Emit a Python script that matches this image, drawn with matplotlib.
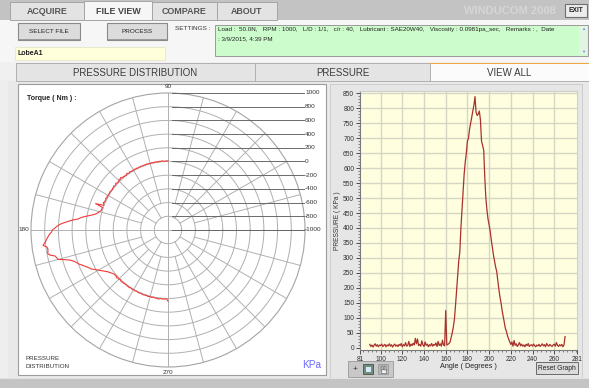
import numpy as np
import matplotlib
matplotlib.use("Agg")
import matplotlib.pyplot as plt
from matplotlib.patches import Rectangle
from matplotlib.ticker import FixedLocator

W, H = 589, 388

# ---- data -------------------------------------------------------------
angles = list(range(90, 271))
pressure = [
    # 90-99
    12, 5, 10, 3, 9, 14, 6, 11, 4, 10,
    # 100-109
    8, 13, 5, 9, 12, 4, 10, 7, 14, 6,
    # 110-119
    11, 3, 9, 13, 6, 10, 5, 12, 8, 15,
    # 120-129
    4, 11, 7, 18, 6, 9, 22, 5, 13, 8,
    # 130-139
    16, 10, 32, 14, 30, 8, 12, 6, 24, 10,
    # 140-149
    5, 20, 9, 13, 4, 11, 7, 15, 6, 12,
    # 150-159
    9, 17, 5, 22, 8, 14, 6, 26, 10, 7,
    # 160-169
    125, 10, 12, 15, 20, 35, 50, 70, 95, 140,
    # 170-179
    190, 240, 290, 320, 400, 460, 520, 580, 620, 650,
    # 180-189
    690, 700, 730, 750, 770, 790, 810, 838, 785, 775,
    # 190-199
    780, 790, 760, 690, 675, 660, 570, 500, 460, 430,
    # 200-209
    410, 390, 360, 335, 310, 290, 270, 255, 225, 195,
    # 210-219
    170, 150, 125, 105, 85, 65, 55, 40, 30, 20,
    # 220-229
    12, 20, 6, 25, 9, 14, 5, 11, 18, 7,
    # 230-239
    13, 6, 10, 4, 12, 8, 15, 5, 9, 11,
    # 240-249
    6, 13, 8, 4, 10, 7, 12, 5, 9, 14,
    # 250-259
    7, 11, 4, 15, 9, 6, 12, 8, 5, 10,
    # 260-269
    13, 6, 18, 9, 5, 11, 7, 12, 4, 10,
    # 270
    38,
]

radial_ticks = [1000, 800, 600, 400, 200, 0, -200, -400, -600, -800, -1000]
angle_ticks = [81, 100, 120, 140, 160, 180, 200, 220, 240, 260, 281]
pressure_ticks = list(range(0, 851, 50))

main_tabs = ["ACQUIRE", "FILE VIEW", "COMPARE", "ABOUT"]
view_tabs = ["PRESSURE DISTRIBUTION", "PRESSURE", "VIEW ALL"]
settings_line1 = ("Load :  50.0N,   RPM : 1000,   L/D : 1/1,   c/r : 40,   "
                  "Lubricant : SAE20W40,   Viscosity : 0.0981pa_sec,   Remarks : ,  Date")
settings_line2 = ": 3/9/2015, 4:39 PM"
file_name = "LobeA1"

FONT = "Liberation Sans"
plt.rcParams["font.family"] = [FONT, "DejaVu Sans"]

fig = plt.figure(figsize=(W / 100, H / 100), dpi=100)


def box(x0, y0, x1, y1):
    """pixel box (top-left origin) -> figure fraction rect"""
    return [x0 / W, 1 - y1 / H, (x1 - x0) / W, (y1 - y0) / H]


# ---- window chrome ----------------------------------------------------
bg = fig.add_axes([0, 0, 1, 1], zorder=0)
bg.set_xlim(0, W)
bg.set_ylim(H, 0)
bg.axis("off")


def rect(x0, y0, x1, y1, fc, ec="none", lw=0.8, z=1):
    bg.add_patch(Rectangle((x0, y0), x1 - x0, y1 - y0, facecolor=fc,
                           edgecolor=ec, linewidth=lw, zorder=z))


rect(0, 0, W, H, "#eeeeee", z=0)
# top tab bar
rect(0, 0, W, 20, "#c3c3c3")
tab_x = [(10, 84), (84, 152), (152, 217), (217, 277)]
for (x0, x1), name in zip(tab_x, main_tabs):
    active = name == "FILE VIEW"
    rect(x0, 1 if active else 2, x1, 20, "#f6f6f6" if active else "#e3e3e3",
         ec="#a5a5a5", lw=0.7, z=2)
    bg.text((x0 + x1) / 2, 11, name, ha="center", va="center", fontsize=6.4,
            fontweight="bold", color="#555555" if not active else "#444444", zorder=3)
bg.text(510, 11, "WINDUCOM 2008", ha="center", va="center", fontsize=8,
        fontweight="bold", color="#d6d6d6", zorder=3)
rect(565, 4, 587, 17, "#ececec", ec="#707070", lw=0.8, z=2)
bg.text(576, 10.8, "EXIT", ha="center", va="center", fontsize=4.8,
        fontweight="bold", color="#222222", zorder=3)

# file row
rect(0, 20, W, 62, "#f6f6f6")
for (x0, x1), name in zip([(18, 80), (107, 167)], ["SELECT FILE", "PROCESS"]):
    rect(x0, 23, x1, 40, "#dcdcdc", ec="#8a8a8a", lw=0.8, z=2)
    rect(x0 + 1, 38.5, x1, 40, "#9a9a9a", z=2)
    bg.text((x0 + x1) / 2, 31.5, name, ha="center", va="center", fontsize=4.6,
            color="#222222", zorder=3)
bg.text(175, 28, "SETTINGS :", ha="left", va="center", fontsize=4.6,
        color="#333333", zorder=3)
rect(215, 25, 588, 56, "#ccfccc", ec="#9a9a9a", lw=0.7, z=2)
bg.text(218, 30, settings_line1, ha="left", va="center", fontsize=4.5,
        color="#222222", zorder=3)
bg.text(218, 38.5, settings_line2, ha="left", va="center", fontsize=4.5,
        color="#222222", zorder=3)
rect(579, 26, 587, 55, "#e4f4e4", z=3)
bg.text(583, 29.5, "▲", ha="center", va="center", fontsize=3, color="#6a8ad0", zorder=4)
bg.text(583, 52, "▼", ha="center", va="center", fontsize=3, color="#6a8ad0", zorder=4)
rect(15, 47, 165, 60, "#ffffdc", ec="#e6e6c8", lw=0.6, z=2)
bg.text(17, 53.8, file_name, ha="left", va="center", fontsize=5,
        fontweight="bold", color="#222222", zorder=3)

# view tabs
rect(0, 62, W, 80, "#f0f0f0")
vtab_x = [(16, 255), (255, 430), (430, 589)]
for (x0, x1), name in zip(vtab_x, view_tabs):
    active = name == "VIEW ALL"
    rect(x0, 63, x1, 81, "#fbfbfb" if active else "#e4e4e4",
         ec="#b0b0b0", lw=0.7, z=2)
    if active:
        rect(x0, 62.5, x1, 64, "#f2a640", z=3)
    bg.text((x0 + x1) / 2, 72.5, name, ha="center", va="center", fontsize=7,
            color="#3c3c3c", zorder=3)

# panels
rect(8, 81, W, 378, "#e9e9e9")
rect(18, 84, 326, 375, "#ffffff", ec="#9c9c9c", lw=0.8, z=2)
rect(330, 84, 582, 378, "#e6e6e6", ec="#c8c8c8", lw=0.6, z=2)
rect(0, 378, W, H, "#c4c4c4", z=2)
rect(0, 378, W, 379.2, "#e2e2e2", z=3)

# polar panel captions
bg.text(27, 98, "Torque ( Nm ) :", ha="left", va="center", fontsize=5,
        fontweight="bold", color="#222222", zorder=3)
bg.text(26, 358, "PRESSURE", ha="left", va="center", fontsize=4.5,
        color="#333333", zorder=3)
bg.text(26, 367, "DISTRIBUTION", ha="left", va="center", fontsize=4.5,
        color="#333333", zorder=3)
bg.text(312, 365, "KPa", ha="center", va="center", fontsize=7.2,
        color="#6a6aff", zorder=3)

# graph footer: palette, axis title, reset button
rect(348, 361, 393, 377, "#c8c8c8", ec="#9a9a9a", lw=0.6, z=3)
bg.text(355, 369, "+", ha="center", va="center", fontsize=6, color="#333333", zorder=4)
rect(363, 364, 373, 374, "#6f8f7a", ec="#3c3c3c", lw=0.5, z=4)
rect(366, 366.5, 370.5, 371.5, "#d8e8ff", z=5)
rect(378, 364, 388, 374, "#b8b8b8", ec="#888888", lw=0.4, z=4)
# pan (hand) icon as tiny fingers over a palm
rect(380.5, 369, 386, 372.5, "#f2f2f2", ec="#555555", lw=0.4, z=5)
for fx_ in (380.8, 382.2, 383.6, 385.0):
    rect(fx_, 365.5, fx_ + 1.0, 369.5, "#f2f2f2", ec="#555555", lw=0.3, z=5)
bg.text(468, 367, "Angle ( Degrees )", ha="center", va="center", fontsize=5.2,
        color="#222222", zorder=4)
rect(536, 362, 578, 374, "#dcdcdc", ec="#6a6a6a", lw=0.7, z=3)
bg.text(557, 368.2, "Reset Graph", ha="center", va="center", fontsize=4.8,
        color="#222222", zorder=4)

# ---- polar pressure distribution ---------------------------------------
cx, cy, R = 168, 230, 137
pax = fig.add_axes(box(cx - R, cy - R, cx + R, cy + R), projection="polar", zorder=2)
pax.set_facecolor("white")
rmin, rmax = radial_ticks[-1], radial_ticks[0]
pax.set_ylim(rmin, rmax)
pax.set_xticks([])
pax.set_yticks([])
pax.grid(False)
pax.spines["polar"].set_color("#a4a4a4")
pax.spines["polar"].set_linewidth(0.8)

full = np.linspace(0, 2 * np.pi, 361)
grid_c = "#b0b0b0"
for v in radial_ticks[1:-1]:
    pax.plot(full, [v] * len(full), color=grid_c, lw=0.7, zorder=1)
for deg in range(0, 360, 15):
    if deg % 90 == 0:
        start = rmin
    elif deg % 30 == 0:
        start = radial_ticks[-2]
    else:
        start = radial_ticks[-3]
    t = np.deg2rad(deg)
    pax.plot([t, t], [start, rmax], color=grid_c, lw=0.7, zorder=1)

pax.plot(np.deg2rad(angles), pressure, color="#f03a3a", lw=0.8, zorder=3)

# radial scale drawn to the right of the dial
sax = fig.add_axes(box(cx - R, cy - R, cx + R, cy + R), zorder=3)
sax.set_xlim(-1, 1)
sax.set_ylim(-1, 1)
sax.axis("off")
for v in radial_ticks:
    y = (v - rmin) / (rmax - rmin)
    sax.plot([0.03, 0.995], [y, y], color="#606060", lw=0.65, clip_on=False)
    sax.text(1.0, y, str(v), ha="left", va="center", fontsize=4.6,
             color="#333333", clip_on=False)
sax.text(0, 1.03, "90", ha="center", va="bottom", fontsize=4.6, color="#333333")
sax.text(0, -1.025, "270", ha="center", va="top", fontsize=4.6, color="#333333")
sax.text(-1.01, 0, "180", ha="right", va="center", fontsize=4.6, color="#333333")

# ---- pressure vs angle graph -------------------------------------------
rax = fig.add_axes(box(360, 91, 577, 350), zorder=4)
rax.set_facecolor("#ffffe0")
rax.set_xlim(angle_ticks[0], angle_ticks[-1])
rax.set_ylim(-6.7, 856.7)
rax.xaxis.set_major_locator(FixedLocator(angle_ticks))
rax.yaxis.set_major_locator(FixedLocator(pressure_ticks))
rax.xaxis.set_minor_locator(FixedLocator([a for a in range(84, 281, 4)
                                          if a not in angle_ticks]))
rax.yaxis.set_minor_locator(FixedLocator([p for p in range(0, 851, 10)
                                          if p % 50]))
rax.set_xticklabels([str(a) for a in angle_ticks])
rax.set_yticklabels([str(p) for p in pressure_ticks])
for a in angle_ticks[1:-1]:
    rax.axvline(a, color="#d6d6c4", lw=1.0, zorder=1)
for p in pressure_ticks[1:]:
    rax.axhline(p, color="#d6d6c4", lw=1.0, zorder=1)
rax.tick_params(which="major", length=3, width=0.6, pad=1.2, labelsize=4.8,
                colors="#333333")
rax.tick_params(which="minor", length=1.6, width=0.5, colors="#555555")
for side in ("left", "bottom"):
    rax.spines[side].set_color("#7a7a7a")
    rax.spines[side].set_linewidth(0.8)
for side in ("top", "right"):
    rax.spines[side].set_color("#cfcfcf")
    rax.spines[side].set_linewidth(0.8)
rax.set_ylabel("PRESSURE ( KPa )", fontsize=4.8, color="#333333", labelpad=1.5)
rax.plot(angles, pressure, color="#a8322c", lw=0.9, zorder=3)

fig.savefig("out.png", dpi=100)
